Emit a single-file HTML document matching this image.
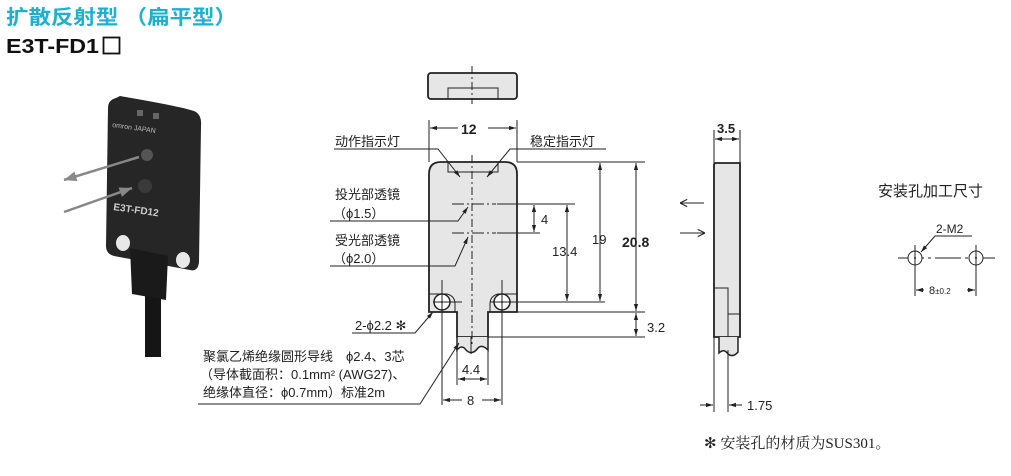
<!DOCTYPE html>
<html><head><meta charset="utf-8"><style>
html,body{margin:0;padding:0;background:#fff;width:1011px;height:476px;overflow:hidden}
svg{display:block}
text{font-family:"Liberation Sans","Noto Sans CJK SC",sans-serif;fill:#222}
</style></head><body>
<svg width="1011" height="476" viewBox="0 0 1011 476" xmlns="http://www.w3.org/2000/svg">
<defs>
<marker id="a" viewBox="0 0 10 10" refX="10" refY="5" markerWidth="7" markerHeight="7" orient="auto-start-reverse"><path d="M0,2 L10,5 L0,8 z" fill="#222"/></marker>
<marker id="g" viewBox="0 0 10 10" refX="10" refY="5" markerWidth="5" markerHeight="5" orient="auto"><path d="M0,1 L10,5 L0,9 z" fill="#888"/></marker>
<marker id="o" viewBox="0 0 10 10" refX="10" refY="5" markerWidth="9" markerHeight="9" orient="auto"><path d="M2,1 L10,5 L2,9" fill="none" stroke="#222" stroke-width="1.2"/></marker>
</defs>
<text x="6" y="24" font-size="20" font-weight="bold" textLength="231" lengthAdjust="spacingAndGlyphs" style="fill:#1db0cf">扩散反射型 （扁平型）</text>
<text x="6" y="53" font-size="20" font-weight="bold" textLength="93" lengthAdjust="spacingAndGlyphs" style="fill:#111">E3T-FD1</text>
<rect x="103.5" y="37.5" width="16" height="16" fill="none" stroke="#111" stroke-width="1.8"/>

<!-- photo -->
<rect x="145" y="285" width="16" height="72" fill="#151515"/>
<path d="M108,108 Q108,100 116,98 L120,96 Q190,108 196,112 Q202,116 201,126 L199,262 Q198,272 190,270 L114,256 Q106,254 106,246 Z" fill="#262626"/>
<path d="M130,248 L168,256 L166,300 L132,294 Z" fill="#1a1a1a"/>
<ellipse cx="123" cy="243" rx="7" ry="8" fill="#e8e8e8"/>
<ellipse cx="183" cy="260" rx="7" ry="8" fill="#e8e8e8"/>
<rect x="137" y="110" width="6" height="6" fill="#666"/><rect x="153" y="113" width="6" height="6" fill="#666"/>
<circle cx="147" cy="155" r="6" fill="#555"/>
<circle cx="145" cy="186" r="7" fill="#3a3a3a"/>
<text x="112" y="127" font-size="7" style="fill:#bbb" transform="rotate(8 112 127)">omron JAPAN</text>
<text x="113" y="210" font-size="10" font-weight="bold" style="fill:#ccc" transform="rotate(8 113 210)">E3T-FD12</text>
<line x1="139" y1="157" x2="64" y2="180" stroke="#888" stroke-width="2.5" marker-end="url(#g)"/>
<line x1="64" y1="212" x2="132" y2="188" stroke="#888" stroke-width="2.5" marker-end="url(#g)"/>

<g stroke="#222" fill="none" stroke-width="1">
<rect x="428" y="73" width="89" height="26" rx="3" fill="#e6e6e6" stroke-width="1.8"/>
<path d="M448,99 V88 H498 V99"/>
<line x1="472" y1="66" x2="472" y2="104" stroke-dasharray="8,3,2,3"/>
<line x1="429" y1="120" x2="429" y2="162"/><line x1="517" y1="120" x2="517" y2="162"/>
<line x1="430" y1="128" x2="458" y2="128" marker-start="url(#a)"/><line x1="488" y1="128" x2="516" y2="128" marker-end="url(#a)"/>
<path d="M429,174 Q429,162 441,162 H505 Q517,162 517,174 V312 H488 V337 H457 V312 H429 Z" fill="#e6e6e6" stroke-width="1.8"/>
<path d="M457,337 V350 Q462,344 466,350 Q472,356 478,348 Q482,344 488,350 V337" fill="#e6e6e6" stroke-width="1.5"/>
<line x1="471" y1="337" x2="471" y2="354"/>
<path d="M448,162 V172 H498 V162"/>
<path d="M429,294 H447 Q455,296 455,304 V312" /><path d="M517,294 H498 Q490,296 490,304 V312"/>
<circle cx="442" cy="302" r="8" fill="#fff" stroke-width="1.5"/>
<circle cx="502" cy="302" r="8" fill="#fff" stroke-width="1.5"/>
<line x1="472" y1="155" x2="472" y2="345" stroke-dasharray="8,3,2,3"/>
<line x1="452" y1="204" x2="496" y2="204" stroke-dasharray="12,3,2,3"/>
<line x1="452" y1="233" x2="496" y2="233" stroke-dasharray="12,3,2,3"/>
<line x1="433" y1="302" x2="462" y2="302"/><line x1="442" y1="280" x2="442" y2="405"/>
<line x1="490" y1="302" x2="605" y2="302"/><line x1="502" y1="280" x2="502" y2="405"/>
<line x1="497" y1="204" x2="575" y2="204"/><line x1="497" y1="233" x2="540" y2="233"/>
<line x1="534" y1="205" x2="534" y2="232" marker-start="url(#a)" marker-end="url(#a)"/>
<line x1="567" y1="205" x2="567" y2="301" marker-start="url(#a)" marker-end="url(#a)"/>
<line x1="517" y1="162" x2="645" y2="162"/>
<line x1="600" y1="163" x2="600" y2="301" marker-start="url(#a)" marker-end="url(#a)"/>
<line x1="636" y1="163" x2="636" y2="311" marker-start="url(#a)" marker-end="url(#a)"/>
<line x1="517" y1="312" x2="645" y2="312"/><line x1="488" y1="337" x2="645" y2="337"/>
<line x1="636" y1="313" x2="636" y2="336" marker-start="url(#a)" marker-end="url(#a)"/>
<line x1="457" y1="345" x2="457" y2="385"/><line x1="488" y1="345" x2="488" y2="385"/>
<line x1="458" y1="379" x2="487" y2="379" marker-start="url(#a)" marker-end="url(#a)"/>
<line x1="443" y1="400" x2="462" y2="400" marker-start="url(#a)"/><line x1="482" y1="400" x2="501" y2="400" marker-end="url(#a)"/>
<polyline points="334,149 438,149 460,177" marker-end="url(#a)"/>
<polyline points="606,149 510,149 487,177" marker-end="url(#a)"/>
<polyline points="330,221 458,221 468,207" marker-end="url(#a)"/>
<polyline points="330,266 455,266 468,237" marker-end="url(#a)"/>
<polyline points="352,333 415,333 433,312" marker-end="url(#a)"/>
<polyline points="198,404 420,404 459,343" marker-end="url(#a)"/>

<line x1="714" y1="130" x2="714" y2="163"/><line x1="740" y1="130" x2="740" y2="163"/>
<line x1="715" y1="139" x2="739" y2="139" marker-start="url(#a)" marker-end="url(#a)"/>
<path d="M714,165 Q714,163 716,163 H740 V337 H714 Z" fill="#e6e6e6" stroke-width="1.8"/>
<path d="M714,288 H728 V314 H740 M728,314 V337"/>
<path d="M719,337 V353 Q724,348 728,354 Q733,358 738,352 V337" fill="#e6e6e6" stroke-width="1.5"/>
<line x1="714" y1="337" x2="714" y2="412"/><line x1="728" y1="350" x2="728" y2="412"/>
<line x1="700" y1="405" x2="713" y2="405" marker-end="url(#a)"/>
<line x1="742" y1="405" x2="729" y2="405" marker-end="url(#a)"/>
<line x1="704" y1="203" x2="680" y2="203" marker-end="url(#o)"/>
<line x1="680" y1="233" x2="705" y2="233" marker-end="url(#o)"/>

<line x1="898" y1="258" x2="995" y2="258" stroke-dasharray="26,4,3,4"/>
<circle cx="915" cy="258" r="7" fill="#fff"/><circle cx="976" cy="258" r="7" fill="#fff"/>
<line x1="915" y1="245" x2="915" y2="296"/><line x1="976" y1="245" x2="976" y2="296"/>
<polyline points="972,236 935,236 921,252" marker-end="url(#a)"/>
<line x1="924" y1="290" x2="916" y2="290" marker-end="url(#a)"/>
<line x1="967" y1="290" x2="975" y2="290" marker-end="url(#a)"/>
</g>
<g fill="#222">
<circle cx="442" cy="302" r="1"/><circle cx="502" cy="302" r="1"/>
<circle cx="915" cy="258" r="1"/><circle cx="976" cy="258" r="1"/>
</g>

<text x="461" y="134" font-size="14" font-weight="bold">12</text>
<text x="335" y="146" font-size="13">动作指示灯</text>
<text x="530" y="146" font-size="13">稳定指示灯</text>
<text x="335" y="199" font-size="13">投光部透镜</text>
<text x="333" y="218" font-size="13">（ϕ1.5）</text>
<text x="335" y="245" font-size="13">受光部透镜</text>
<text x="333" y="263" font-size="13">（ϕ2.0）</text>
<text x="541" y="224" font-size="13">4</text>
<text x="552" y="256" font-size="13">13.4</text>
<text x="592" y="244" font-size="13">19</text>
<text x="622" y="247" font-size="14" font-weight="bold">20.8</text>
<text x="647" y="332" font-size="13">3.2</text>
<text x="355" y="330" font-size="13">2-ϕ2.2 ✻</text>
<text x="462" y="374" font-size="13">4.4</text>
<text x="467" y="405" font-size="13">8</text>
<text x="203" y="361" font-size="13">聚氯乙烯绝缘圆形导线　ϕ2.4、3芯</text>
<text x="200" y="379" font-size="13">（导体截面积：0.1mm² (AWG27)、</text>
<text x="203" y="397" font-size="13">绝缘体直径：ϕ0.7mm）标准2m</text>
<text x="717" y="133" font-size="13" font-weight="bold">3.5</text>
<text x="747" y="410" font-size="13">1.75</text>
<text x="878" y="196" font-size="15">安装孔加工尺寸</text>
<text x="936" y="233" font-size="12">2-M2</text>
<text x="929" y="294" font-size="11">8<tspan font-size="8">±0.2</tspan></text>
<text x="704" y="448" font-size="15" style="font-family:'Liberation Serif','Noto Serif CJK SC',serif">✻ 安装孔的材质为SUS301。</text>
</svg>
</body></html>
